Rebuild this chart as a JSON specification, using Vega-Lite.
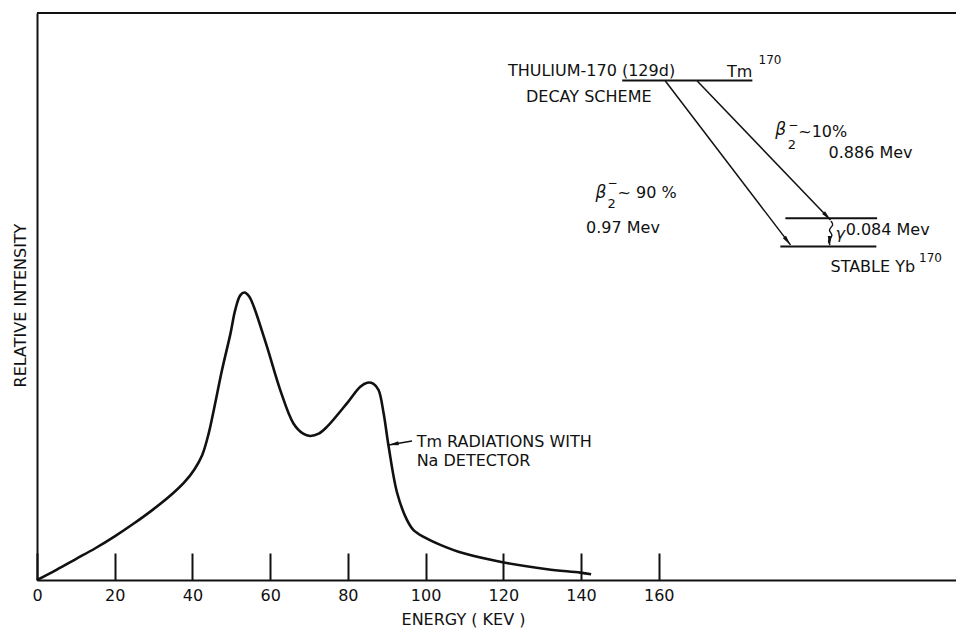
{
  "$schema": "https://vega.github.io/schema/vega-lite/v6.json",
  "width": 919,
  "height": 567,
  "autosize": {"type": "none"},
  "padding": {"left": 37, "top": 13, "right": 0, "bottom": 49},
  "background": "white",
  "config": {
    "view": {"stroke": null},
    "font": "DejaVu Sans",
    "text": {"font": "DejaVu Sans", "color": "#111"}
  },
  "datasets": {
    "curve": [
      {"E": 0, "V": 0},
      {"E": 5, "V": 1.8},
      {"E": 10, "V": 3.7},
      {"E": 15, "V": 5.6},
      {"E": 20, "V": 7.7},
      {"E": 25, "V": 10.0},
      {"E": 30, "V": 12.5},
      {"E": 35, "V": 15.3},
      {"E": 38, "V": 17.3},
      {"E": 40.5, "V": 19.5},
      {"E": 42.5, "V": 22.0},
      {"E": 44.2, "V": 25.9},
      {"E": 45.5, "V": 30.0},
      {"E": 47.6, "V": 37.0},
      {"E": 49.8, "V": 43.5},
      {"E": 51.0, "V": 47.6},
      {"E": 52.3, "V": 50.2},
      {"E": 53.4, "V": 50.7},
      {"E": 54.6, "V": 50.0},
      {"E": 55.8, "V": 48.2},
      {"E": 59.2, "V": 41.1},
      {"E": 62.6, "V": 33.5},
      {"E": 66.0, "V": 27.6},
      {"E": 68.5, "V": 25.8},
      {"E": 70.3, "V": 25.4},
      {"E": 72.5, "V": 25.8},
      {"E": 74.6, "V": 27.0},
      {"E": 79.8, "V": 31.2},
      {"E": 83.2, "V": 34.1},
      {"E": 85.0, "V": 34.8},
      {"E": 86.6, "V": 34.6},
      {"E": 87.9, "V": 33.5},
      {"E": 89.2, "V": 29.4},
      {"E": 90.5, "V": 23.5},
      {"E": 92.7, "V": 15.3},
      {"E": 95.2, "V": 10.6},
      {"E": 96.9, "V": 8.8},
      {"E": 99.5, "V": 7.6},
      {"E": 103.8, "V": 6.2},
      {"E": 109.8, "V": 4.7},
      {"E": 120.1, "V": 3.1},
      {"E": 131.3, "V": 1.9},
      {"E": 139.8, "V": 1.3},
      {"E": 142.6, "V": 1.0}
    ],
    "levels": [
      {"E1": 150.6, "V1": 88.1, "E2": 184.1, "V2": 88.1},
      {"E1": 192.6, "V1": 63.8, "E2": 216.2, "V2": 63.8},
      {"E1": 191.3, "V1": 58.8, "E2": 216.0, "V2": 58.8}
    ],
    "arrows": [
      {"E1": 161.7, "V1": 88.0, "E2": 193.9, "V2": 59.1},
      {"E1": 169.9, "V1": 88.0, "E2": 204.2, "V2": 63.5},
      {"E1": 96.5, "V1": 24.5, "E2": 90.5, "V2": 23.8}
    ],
    "heads": [
      {"E": 193.9, "V": 59.1, "A": 142.7},
      {"E": 204.2, "V": 63.5, "A": 136.2},
      {"E": 204.0, "V": 58.9, "A": 180},
      {"E": 90.5, "V": 23.8, "A": 260}
    ],
    "wave": [
      {"i": 0, "E": 204.3, "V": 63.3},
      {"i": 1, "E": 205.2, "V": 62.6},
      {"i": 2, "E": 203.3, "V": 61.7},
      {"i": 3, "E": 205.2, "V": 60.8},
      {"i": 4, "E": 203.3, "V": 59.9},
      {"i": 5, "E": 204.1, "V": 59.1}
    ],
    "labelsL": [
      {"E": 185.7, "V": 91.7, "T": "170", "S": 12},
      {"E": 193.2, "V": 76.7, "T": "2", "S": 13},
      {"E": 193.3, "V": 80.2, "T": "−", "S": 12},
      {"E": 195.9, "V": 79.0, "T": "~10%", "S": 16},
      {"E": 146.8, "V": 66.3, "T": "2", "S": 13},
      {"E": 146.8, "V": 70.0, "T": "−", "S": 12},
      {"E": 149.4, "V": 68.3, "T": "~ 90 %", "S": 16},
      {"E": 208.1, "V": 61.7, "T": "0.084 Mev", "S": 16},
      {"E": 204.2, "V": 55.2, "T": "STABLE Yb", "S": 16},
      {"E": 227.0, "V": 56.8, "T": "170", "S": 12},
      {"E": 97.7, "V": 24.4, "T": "Tm RADIATIONS WITH", "S": 16},
      {"E": 97.7, "V": 20.9, "T": "Na DETECTOR", "S": 16}
    ],
    "labelsC": [
      {"E": 142.7, "V": 89.8, "T": "THULIUM-170 (129d)", "S": 16},
      {"E": 142.0, "V": 85.1, "T": "DECAY SCHEME", "S": 16},
      {"E": 214.5, "V": 75.3, "T": "0.886 Mev", "S": 16},
      {"E": 150.8, "V": 62.1, "T": "0.97 Mev", "S": 16}
    ],
    "labelsR": [
      {"E": 184.1, "V": 89.6, "T": "Tm", "S": 16}
    ],
    "greek": [
      {"E": 190.0, "V": 79.4, "T": "β", "S": 17},
      {"E": 143.7, "V": 68.3, "T": "β", "S": 17},
      {"E": 205.5, "V": 61.0, "T": "γ", "S": 16}
    ]
  },
  "layer": [
    {
      "data": {"name": "curve"},
      "mark": {"type": "line", "interpolate": "catmull-rom", "color": "#111", "strokeWidth": 2.6},
      "encoding": {
        "x": {
          "field": "E", "type": "quantitative",
          "scale": {"domain": [0, 236.5], "nice": false, "zero": false},
          "axis": {
            "values": [0, 20, 40, 60, 80, 100, 120, 140, 160],
            "title": "ENERGY ( KEV )",
            "grid": false,
            "domainColor": "#111", "domainWidth": 2,
            "tickColor": "#111", "tickWidth": 2, "tickSize": -27,
            "labelPadding": 34, "labelFlush": false,
            "labelFont": "DejaVu Sans", "labelFontSize": 16, "labelColor": "#111",
            "titleFont": "DejaVu Sans", "titleFontSize": 16, "titleFontWeight": "normal", "titleColor": "#111",
            "titleX": 426, "titleY": 44, "titleAlign": "center", "titleBaseline": "alphabetic"
          }
        },
        "y": {
          "field": "V", "type": "quantitative",
          "scale": {"domain": [0, 100], "nice": false},
          "axis": {
            "title": "RELATIVE INTENSITY",
            "grid": false, "ticks": false, "labels": false,
            "domainColor": "#111", "domainWidth": 2,
            "titleFont": "DejaVu Sans", "titleFontSize": 16, "titleFontWeight": "normal", "titleColor": "#111",
            "titleX": -12, "titleY": 292, "titleAngle": -90, "titleAlign": "center", "titleBaseline": "alphabetic"
          }
        }
      }
    },
    {
      "data": {"values": [{"V": 100}]},
      "mark": {"type": "rule", "color": "#111", "strokeWidth": 2},
      "encoding": {"y": {"field": "V", "type": "quantitative"}}
    },
    {
      "data": {"name": "levels"},
      "mark": {"type": "rule", "color": "#111", "strokeWidth": 2},
      "encoding": {
        "x": {"field": "E1", "type": "quantitative"},
        "x2": {"field": "E2"},
        "y": {"field": "V1", "type": "quantitative"},
        "y2": {"field": "V2"}
      }
    },
    {
      "data": {"name": "arrows"},
      "mark": {"type": "rule", "color": "#111", "strokeWidth": 1.5},
      "encoding": {
        "x": {"field": "E1", "type": "quantitative"},
        "x2": {"field": "E2"},
        "y": {"field": "V1", "type": "quantitative"},
        "y2": {"field": "V2"}
      }
    },
    {
      "data": {"name": "wave"},
      "mark": {"type": "line", "interpolate": "basis", "color": "#111", "strokeWidth": 1.4},
      "encoding": {
        "x": {"field": "E", "type": "quantitative"},
        "y": {"field": "V", "type": "quantitative"},
        "order": {"field": "i"}
      }
    },
    {
      "data": {"name": "heads"},
      "mark": {"type": "point", "shape": "M0,0L0.4,2L-0.4,2Z", "filled": true, "color": "#111", "size": 100, "opacity": 1},
      "encoding": {
        "x": {"field": "E", "type": "quantitative"},
        "y": {"field": "V", "type": "quantitative"},
        "angle": {"field": "A", "type": "quantitative", "scale": null}
      }
    },
    {
      "data": {"name": "labelsL"},
      "mark": {"type": "text", "align": "left", "baseline": "middle", "color": "#111"},
      "encoding": {
        "x": {"field": "E", "type": "quantitative"},
        "y": {"field": "V", "type": "quantitative"},
        "text": {"field": "T"},
        "size": {"field": "S", "type": "quantitative", "scale": null}
      }
    },
    {
      "data": {"name": "labelsC"},
      "mark": {"type": "text", "align": "center", "baseline": "middle", "color": "#111"},
      "encoding": {
        "x": {"field": "E", "type": "quantitative"},
        "y": {"field": "V", "type": "quantitative"},
        "text": {"field": "T"},
        "size": {"field": "S", "type": "quantitative", "scale": null}
      }
    },
    {
      "data": {"name": "labelsR"},
      "mark": {"type": "text", "align": "right", "baseline": "middle", "color": "#111"},
      "encoding": {
        "x": {"field": "E", "type": "quantitative"},
        "y": {"field": "V", "type": "quantitative"},
        "text": {"field": "T"},
        "size": {"field": "S", "type": "quantitative", "scale": null}
      }
    },
    {
      "data": {"name": "greek"},
      "mark": {"type": "text", "align": "left", "baseline": "middle", "color": "#111", "fontStyle": "italic"},
      "encoding": {
        "x": {"field": "E", "type": "quantitative"},
        "y": {"field": "V", "type": "quantitative"},
        "text": {"field": "T"},
        "size": {"field": "S", "type": "quantitative", "scale": null}
      }
    }
  ]
}
